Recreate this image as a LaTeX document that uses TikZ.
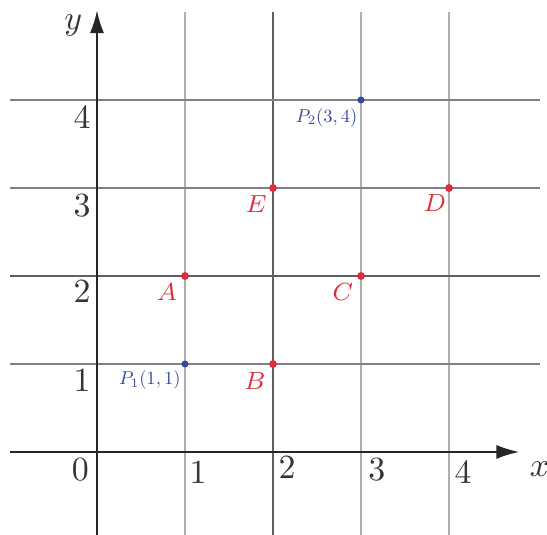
\documentclass[tikz,border=0pt]{standalone}
\usetikzlibrary{arrows.meta}
\definecolor{ptred}{RGB}{222,45,60}
\definecolor{ptblue}{RGB}{55,70,160}
\definecolor{gridlight}{RGB}{175,175,175}
\definecolor{griddark}{RGB}{95,95,95}
\begin{document}
\begin{tikzpicture}[
  gridl/.style={draw=gridlight,line width=0.5pt},
  gridd/.style={draw=griddark,line width=0.55pt},
  axis/.style={draw=black!85,line width=0.7pt,-{Latex[length=2.6mm,width=1.6mm]}},
  num/.style={font=\fontsize{10.5}{12}\selectfont,text=black!80,inner sep=0pt},
  rlab/.style={font=\fontsize{8}{10}\selectfont,text=ptred,inner sep=0pt},
  blab/.style={font=\fontsize{10}{12}\selectfont,text=ptblue,inner sep=0pt,scale=0.6,transform shape},
  rdot/.style={circle,fill=ptred,inner sep=0pt,minimum size=0.9mm},
  bdot/.style={circle,fill=ptblue,inner sep=0pt,minimum size=0.8mm}]
\useasboundingbox (-1.102,-0.943) rectangle (5.114,5.136);
% grid
\foreach \x in {1,3,4} \draw[gridl] (\x,-0.95) -- (\x,5.0);
\draw[gridd] (2,-0.95) -- (2,5.0);
\foreach \y in {1,3,4} \draw[gridd,draw=black!50] (-0.99,\y) -- (5.03,\y);
\draw[gridd] (-0.99,2) -- (5.03,2);
% axes
\draw[axis] (-0.99,0) -- (4.80,0);
\draw[axis] (0,-0.95) -- (0,5.02);
% axis labels
\node[num] (lx) at (5.03,-0.2) {$x$};
\node[num] (ly) at (-0.27,4.85) {$y$};
\node[num] (n0) at (-0.19,-0.2) {$0$};
\node[num] (x1) at (1.15,-0.23) {$1$};
\node[num] (x2) at (2.16,-0.18) {$2$};
\node[num] (x3) at (3.18,-0.2) {$3$};
\node[num] (x4) at (4.16,-0.23) {$4$};
\node[num] (y1) at (-0.17,0.81) {$1$};
\node[num] (y2) at (-0.17,1.82) {$2$};
\node[num] (y3) at (-0.17,2.80) {$3$};
\node[num] (y4) at (-0.17,3.80) {$4$};
% points
\node[rdot] (A) at (1,2) {};
\node[rdot] (B) at (2,1) {};
\node[rdot] (C) at (3,2) {};
\node[rdot] (D) at (4,3) {};
\node[rdot] (E) at (2,3) {};
\node[bdot] (P1) at (1,1) {};
\node[bdot] (P2) at (3,4) {};
% point labels
\node[rlab] (lA) at (0.795,1.82) {$A$};
\node[rlab] (lB) at (1.795,0.807) {$B$};
\node[rlab] (lC) at (2.795,1.82) {$C$};
\node[rlab] (lD) at (3.84,2.83) {$D$};
\node[rlab] (lE) at (1.81,2.82) {$E$};
\node[blab] (lP1) at (0.60,0.82) {$P_1(1,1)$};
\node[blab] (lP2) at (2.61,3.80) {$P_2(3,4)$};
\end{tikzpicture}
\end{document}
